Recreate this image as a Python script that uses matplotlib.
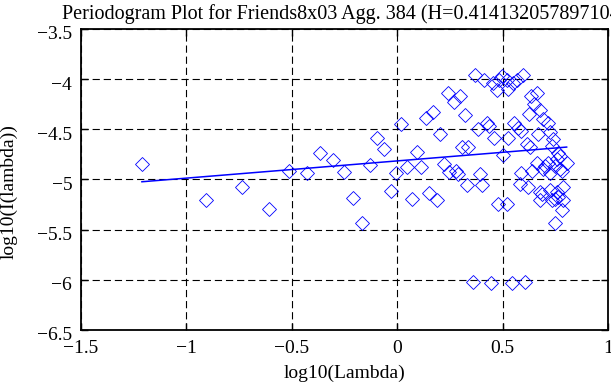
import numpy as np
import matplotlib
matplotlib.use("Agg")
import matplotlib.pyplot as plt
import matplotlib.transforms as mtransforms

plt.rcParams["font.family"] = ["Liberation Serif", "DejaVu Serif"]

# periodogram points (log10 frequency, log10 power)
log_lambda = [
    -1.209, -0.905, -0.733, -0.605, -0.510, -0.428, -0.363, -0.305, -0.251, -0.207,
    -0.167, -0.128, -0.095, -0.063, -0.027, -0.006, 0.019, 0.049, 0.073, 0.093,
    0.112, 0.136, 0.153, 0.171, 0.188, 0.205, 0.223, 0.240, 0.248, 0.270,
    0.280, 0.288, 0.297, 0.307, 0.322, 0.330, 0.337, 0.362, 0.370, 0.385,
    0.393, 0.401, 0.412, 0.425, 0.437, 0.444, 0.456, 0.461, 0.472, 0.480,
    0.485, 0.496, 0.503, 0.520, 0.520, 0.528, 0.528, 0.543, 0.551, 0.556,
    0.567, 0.575, 0.583, 0.586, 0.586, 0.596, 0.607, 0.615, 0.622, 0.626,
    0.630, 0.634, 0.638, 0.649, 0.662, 0.662, 0.670, 0.678, 0.678, 0.686,
    0.690, 0.701, 0.717, 0.725, 0.725, 0.725, 0.733, 0.741, 0.749, 0.757,
    0.765, 0.773, 0.773, 0.781, 0.788, 0.788, 0.804, 0.733, 0.764, 0.717,
    0.749, 0.781, 0.693, 0.678, 0.757, 0.749,
]
log_power = [
    -4.843, -5.20, -5.07, -5.29, -4.92, -4.94, -4.74, -4.81, -4.93, -5.18,
    -5.43, -4.86, -4.59, -4.70, -5.11, -4.94, -4.45, -4.88, -5.19, -4.73,
    -4.88, -4.39, -5.13, -4.33, -5.20, -4.55, -4.85, -4.14, -4.93, -4.23,
    -4.92, -4.95, -4.17, -4.68, -4.36, -5.05, -4.68, -6.02, -3.96, -4.50,
    -4.95, -5.05, -4.01, -4.44, -4.47, -6.03, -4.04, -4.59, -4.11, -5.24,
    -4.01, -3.97, -4.76, -4.01, -5.24, -4.10, -4.59, -6.03, -4.04, -4.44,
    -4.01, -4.49, -5.04, -4.52, -4.94, -3.96, -6.02, -4.65, -5.07, -4.35,
    -4.68, -4.17, -4.92, -4.25, -4.14, -4.84, -4.55, -4.31, -5.20, -5.14,
    -4.40, -4.87, -4.44, -4.53, -4.94, -5.10, -5.20, -4.60, -5.43, -4.80,
    -5.17, -4.77, -4.90, -5.30, -5.07, -5.20, -4.84, -4.67, -4.74, -4.84,
    -4.87, -4.92, -4.90, -5.12, -5.12, -5.19,
]

H = 0.414132057897104
fit_slope = 1 - 2 * H
fit_intercept = -4.815

x_ticks = [-1.5, -1, -0.5, 0, 0.5, 1]
x_ticklabels = ["\u22121.5", "\u22121", "\u22120.5", "0", "0.5", "1"]
y_ticks = [-6.5, -6, -5.5, -5, -4.5, -4, -3.5]
y_ticklabels = ["\u22126.5", "\u22126", "\u22125.5", "\u22125", "\u22124.5", "\u22124", "\u22123.5"]

x = np.array(log_lambda)
y = np.array(log_power)

fig = plt.figure(figsize=(6.11, 3.85), dpi=100)
ax = fig.add_axes([0.1318, 0.1429, 0.9951 - 0.1318, 0.9247 - 0.1429])

ax.plot(x, y, linestyle="none", marker="D", markersize=7.2, markerfacecolor="none",
        markeredgecolor="blue", markeredgewidth=0.6)

fit_x = np.array([x.min(), x.max()])
ax.plot(fit_x, fit_intercept + fit_slope * fit_x, color="blue", linewidth=1.1)

ax.set_xlim(-1.5, 1)
ax.set_ylim(-6.5, -3.5)
ax.set_xticks(x_ticks)
ax.set_xticklabels(x_ticklabels)
ax.set_yticks(y_ticks)
ax.set_yticklabels(y_ticklabels)

ax.grid(True, color="black", linestyle=(0, (6.5, 3.5)), linewidth=0.8)
ax.tick_params(direction="in", top=True, right=True, length=5, width=1.0, labelsize=14)
ax.tick_params(axis="x", pad=7)
ax.tick_params(axis="y", pad=6)
for s in ax.spines.values():
    s.set_linewidth(1.3)

# y tick labels sit a little below their ticks in the reference
shift = mtransforms.ScaledTranslation(0, -4 / 100, fig.dpi_scale_trans)
for lbl in ax.get_yticklabels():
    lbl.set_transform(lbl.get_transform() + shift)

ax.set_xlabel("log10(Lambda)", fontsize=14, labelpad=6)
ax.set_ylabel("log10(I(lambda))", fontsize=14, va="center")
ax.yaxis.set_label_coords(-0.135, 0.46)
ax.set_title("Periodogram Plot for Friends8x03 Agg. 384 (H=" + str(H) + ")",
             fontsize=14.5, pad=7)

fig.savefig("out.png", dpi=100)
